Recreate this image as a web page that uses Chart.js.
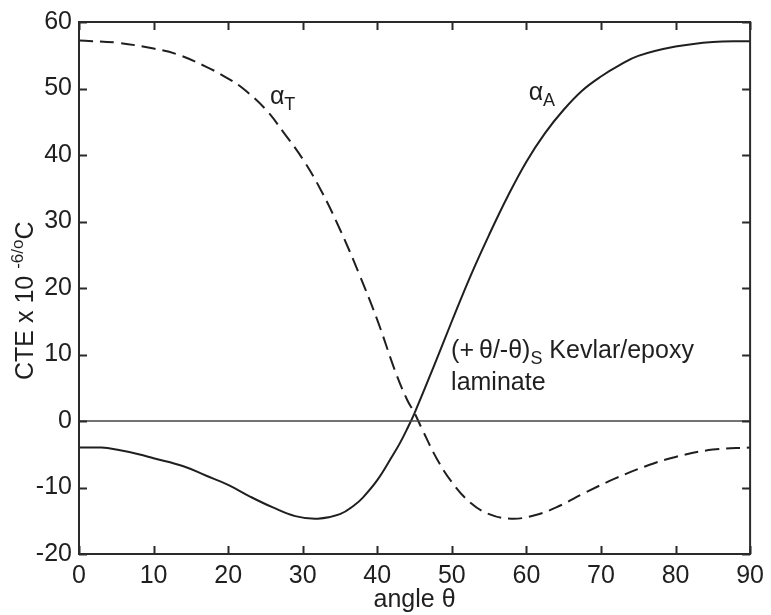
<!DOCTYPE html>
<html>
<head>
<meta charset="utf-8">
<script src="https://cdn.jsdelivr.net/npm/chart.js@4.4.1/dist/chart.umd.min.js"></script>
<style>
  html, body { margin: 0; padding: 0; background: #fff; }
  #wrap { width: 771px; height: 615px; }
</style>
</head>
<body>
<div id="wrap"><canvas id="cte" width="771" height="615"></canvas></div>
<script>
// axial CTE (solid line)
const angleA = [0, 3, 5, 8, 10, 14, 17, 20, 23, 26, 29, 32, 35, 37, 38, 40, 42, 43, 44, 45, 47.5, 50, 52.5, 55, 57.5, 60, 62.5, 65, 67.5, 70, 72.5, 75, 80, 85, 90]
const alphaA = [-4.0, -4.0, -4.3, -5.0, -5.6, -6.8, -8.2, -9.6, -11.4, -13.0, -14.3, -14.7, -14.0, -12.6, -11.6, -8.9, -5.3, -3.4, -1.2, 1.2, 8.0, 15.0, 21.8, 28.0, 33.8, 39.0, 43.3, 46.8, 49.7, 51.8, 53.5, 54.9, 56.3, 57.0, 57.1]

// transverse CTE (dashed line)
const angleT = [0, 5, 10, 13, 17, 20, 22, 25, 27.5, 30, 32.5, 35, 37.5, 40, 42.5, 44, 45, 46, 48, 50, 52.5, 55, 58, 61, 64, 68, 72, 76, 80, 85, 90]
const alphaT = [57.2, 56.9, 56.0, 55.2, 53.3, 51.5, 50.0, 46.9, 43.3, 39.4, 34.6, 28.8, 22.3, 15.2, 7.2, 3.2, 1.2, -1.2, -5.7, -9.2, -12.3, -14.0, -14.7, -14.2, -13.0, -10.7, -8.6, -6.8, -5.4, -4.3, -4.0]

const xTicks = [0, 10, 20, 30, 40, 50, 60, 70, 80, 90]
const yTicks = [-20, -10, 0, 10, 20, 30, 40, 50, 60]

const ink = '#1f1f1f'
const fontFamily = '"Liberation Sans", Arial, Helvetica, sans-serif'

Chart.defaults.font.family = fontFamily
Chart.defaults.font.size = 25
Chart.defaults.color = ink

function toPoints(xs, ys) {
  return xs.map((x, i) => ({ x: x, y: ys[i] }))
}

// text with a subscript or superscript part, left aligned at (x, y) baseline
function drawScripted(ctx, parts, x, y) {
  let cx = x
  parts.forEach(p => {
    ctx.font = p.size + 'px ' + fontFamily
    ctx.fillText(p.text, cx, y + (p.shift || 0))
    cx += ctx.measureText(p.text).width
  })
}

const framePlugin = {
  id: 'frame',
  afterDatasetsDraw(chart) {
    const ctx = chart.ctx
    const area = chart.chartArea
    const xs = chart.scales.x
    const ys = chart.scales.y
    const tick = 8

    ctx.save()
    ctx.strokeStyle = '#2a2a2a'
    ctx.lineWidth = 2
    ctx.strokeRect(area.left, area.top, area.right - area.left, area.bottom - area.top)

    // inward tick marks on all four sides
    ctx.beginPath()
    xTicks.forEach(v => {
      const px = Math.round(xs.getPixelForValue(v)) + 0.5
      ctx.moveTo(px, area.bottom); ctx.lineTo(px, area.bottom - tick)
      ctx.moveTo(px, area.top); ctx.lineTo(px, area.top + tick)
    })
    yTicks.forEach(v => {
      const py = Math.round(ys.getPixelForValue(v)) + 0.5
      ctx.moveTo(area.left, py); ctx.lineTo(area.left + tick, py)
      ctx.moveTo(area.right, py); ctx.lineTo(area.right - tick, py)
    })
    ctx.stroke()

    ctx.fillStyle = ink
    ctx.textBaseline = 'alphabetic'
    ctx.textAlign = 'left'

    // curve labels
    drawScripted(ctx, [{ text: 'α', size: 25 }, { text: 'T', size: 18, shift: 6 }],
      xs.getPixelForValue(25.6), ys.getPixelForValue(47.7))
    drawScripted(ctx, [{ text: 'α', size: 25 }, { text: 'A', size: 18, shift: 6 }],
      xs.getPixelForValue(60.3), ys.getPixelForValue(48.2))

    // laminate note
    const nx = xs.getPixelForValue(49.9)
    drawScripted(ctx, [
      { text: '(+\u2009θ/-θ)', size: 25 },
      { text: 'S', size: 18, shift: 6 },
      { text: ' Kevlar/epoxy', size: 25 }
    ], nx, ys.getPixelForValue(9.4))
    drawScripted(ctx, [{ text: 'laminate', size: 25 }], nx, ys.getPixelForValue(4.7))

    // x axis title
    ctx.font = '25px ' + fontFamily
    ctx.textAlign = 'center'
    ctx.fillText('angle θ', (area.left + area.right) / 2, 607)

    // y axis title, rotated, with superscript
    ctx.translate(33, 380)
    ctx.rotate(-Math.PI / 2)
    ctx.textAlign = 'left'
    drawScripted(ctx, [
      { text: 'CTE x 10 ', size: 25 },
      { text: '-6/o', size: 17, shift: -10 },
      { text: 'C', size: 25 }
    ], 0, 0)
    ctx.restore()
  }
}

new Chart(document.getElementById('cte'), {
  type: 'line',
  data: {
    datasets: [
      {
        label: 'zero',
        data: [{ x: 0, y: 0 }, { x: 90, y: 0 }],
        borderColor: '#444',
        borderWidth: 1.5,
        pointRadius: 0
      },
      {
        label: 'αA',
        data: toPoints(angleA, alphaA),
        borderColor: ink,
        borderWidth: 2,
        pointRadius: 0,
        tension: 0.4
      },
      {
        label: 'αT',
        data: toPoints(angleT, alphaT),
        borderColor: ink,
        borderWidth: 2,
        borderDash: [14, 7],
        pointRadius: 0,
        tension: 0.4
      }
    ]
  },
  options: {
    responsive: false,
    animation: false,
    devicePixelRatio: 1,
    layout: { padding: { top: 20, right: 14, left: 0, bottom: 0 } },
    plugins: {
      legend: { display: false },
      tooltip: { enabled: false }
    },
    scales: {
      x: {
        type: 'linear',
        min: 0,
        max: 90,
        afterFit: s => { s.height = 61 },
        afterBuildTicks: s => { s.ticks = xTicks.map(v => ({ value: v })) },
        grid: { display: false, drawTicks: false },
        border: { display: false },
        ticks: { padding: 7, color: ink, maxRotation: 0 }
      },
      y: {
        type: 'linear',
        min: -20,
        max: 60,
        afterFit: s => { s.width = 79 },
        afterBuildTicks: s => { s.ticks = yTicks.map(v => ({ value: v })) },
        grid: { display: false, drawTicks: false },
        border: { display: false },
        ticks: { padding: 7, color: ink }
      }
    }
  },
  plugins: [framePlugin]
})
</script>
</body>
</html>
